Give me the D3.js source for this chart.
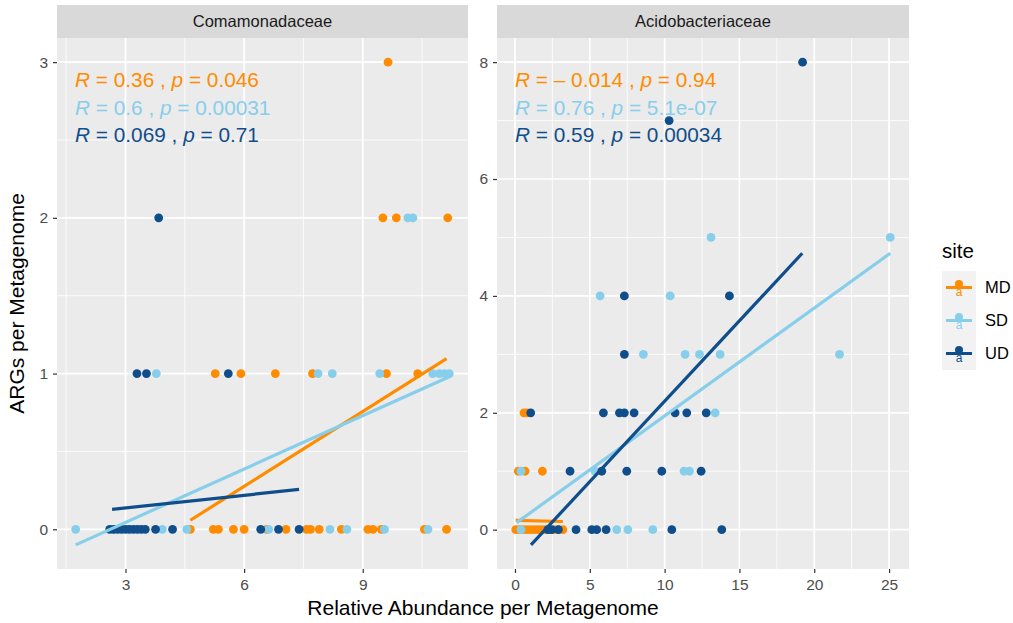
<!DOCTYPE html>
<html>
<head>
<meta charset="utf-8">
<script src="https://cdn.jsdelivr.net/npm/d3@7"></script>
<style>
  body { margin: 0; background: #fff; }
  svg text { font-family: "Liberation Sans", Arial, sans-serif; }
</style>
</head>
<body>
<script>
// site levels + colours
var sites = ["MD", "SD", "UD"];
var siteColors = ["#FF8C00", "#87CEEB", "#104E8B"];

// ---- Comamonadaceae (left facet) : [abundance, ARGs]
var comaMD = [[4.64,0],[5.22,0],[5.35,0],[5.73,0],[6.0,0],[6.57,0],[7.06,0],[7.58,0],[7.68,0],[7.9,0],[8.46,0],[9.13,0],[9.26,0],[9.47,0],[10.56,0],[11.12,0],
  [5.27,1],[5.92,1],[6.79,1],[7.73,1],[9.6,1],[10.39,1],
  [9.51,2],[9.85,2],[11.15,2],[9.64,3]];
var comaSD = [[1.74,0],[2.67,0],[3.93,0],[4.55,0],[6.62,0],[8.17,0],[8.6,0],[9.55,0],[10.65,0],
  [3.78,1],[7.87,1],[8.23,1],[9.43,1],[10.77,1],[10.94,1],[11.07,1],[11.19,1],
  [10.14,2],[10.27,2]];
var comaUD = [[2.6,0],[2.7,0],[2.8,0],[2.9,0],[3.0,0],[3.1,0],[3.2,0],[3.3,0],[3.4,0],[3.5,0],[3.76,0],[4.19,0],[6.42,0],[6.87,0],[7.39,0],
  [3.29,1],[3.53,1],[5.6,1],[3.84,2]];

// ---- Acidobacteriaceae (right facet)
var acidoMD = [[0.05,0],[0.3,0],[0.55,0],[0.8,0],[1.05,0],[1.3,0],[1.55,0],[1.8,0],[2.05,0],[2.3,0],[2.6,0],[2.9,0],[3.2,0],
  [0.22,1],[0.67,1],[1.83,1],[0.6,2],[0.8,2]];
var acidoSD = [[0.4,0],[6.8,0],[7.54,0],[9.21,0],
  [0.4,1],[5.35,1],[11.3,1],[11.66,1],[13.38,2],
  [8.58,3],[11.37,3],[12.33,3],[13.71,3],[21.69,3],
  [5.69,4],[10.37,4],[13.1,5],[25.08,5]];
var acidoUD = [[2.2,0],[2.45,0],[2.9,0],[4.08,0],[5.13,0],[5.46,0],[6.09,0],[10.48,0],[13.82,0],
  [3.68,1],[5.8,1],[7.47,1],[9.81,1],[12.44,1],
  [1.05,2],[5.91,2],[6.98,2],[7.31,2],[7.96,2],[10.7,2],[11.48,2],[12.78,2],
  [7.31,3],[7.31,4],[14.33,4],[10.3,7],[19.22,8]];

// lm fits: [x1, y1, x2, y2] per site
var comaFits = [[4.64,0.058,11.12,1.096],[1.74,-0.10,11.19,0.98],[2.66,0.128,7.39,0.256]];
var acidoFits = [[0.05,0.16,3.2,0.14],[0.11,0.12,25.08,4.73],[1.07,-0.26,19.2,4.73]];

// stat_cor labels
var comaR = ["0.36", "0.6", "0.069"];
var comaP = ["0.046", "0.00031", "0.71"];
var acidoR = ["\u2013 0.014", "0.76", "0.59"];
var acidoP = ["0.94", "5.1e-07", "0.00034"];

var comaXTicks = [3, 6, 9], comaYTicks = [0, 1, 2, 3];
var acidoXTicks = [0, 5, 10, 15, 20, 25], acidoYTicks = [0, 2, 4, 6, 8];

var W = 1013, H = 623;
var pTop = 38, pBottom = 569, stripTop = 5;

var svg = d3.select("body").append("svg")
  .attr("width", W).attr("height", H);

function expand(lo, hi) {
  var d = (hi - lo) * 0.05;
  return [lo - d, hi + d];
}

function drawPanel(opt) {
  var pts = [];
  opt.series.forEach(function (s, i) {
    s.forEach(function (p) { pts.push({x: p[0], y: p[1], site: i}); });
  });
  var xs = pts.map(function (d) { return d.x; });
  var ys = pts.map(function (d) { return d.y; });
  opt.fits.forEach(function (f) { xs.push(f[0], f[2]); ys.push(f[1], f[3]); });

  var x = d3.scaleLinear().domain(expand(d3.min(xs), d3.max(xs))).range([opt.x0, opt.x1]);
  var y = d3.scaleLinear().domain(expand(d3.min(ys), d3.max(ys))).range([pBottom, pTop]);

  var g = svg.append("g");

  // strip
  g.append("rect").attr("x", opt.x0).attr("y", stripTop)
    .attr("width", opt.x1 - opt.x0).attr("height", pTop - stripTop)
    .attr("fill", "#d9d9d9");
  g.append("text").attr("x", (opt.x0 + opt.x1) / 2).attr("y", (stripTop + pTop) / 2 + 5.5)
    .attr("text-anchor", "middle").attr("font-size", 16.5).attr("fill", "#1a1a1a")
    .text(opt.title);

  // panel background
  g.append("rect").attr("x", opt.x0).attr("y", pTop)
    .attr("width", opt.x1 - opt.x0).attr("height", pBottom - pTop)
    .attr("fill", "#ebebeb");

  // minor grid
  var xStep = opt.xTicks[1] - opt.xTicks[0];
  var yStep = opt.yTicks[1] - opt.yTicks[0];
  var xMinor = d3.range(opt.xTicks[0] - xStep / 2, x.domain()[1], xStep).filter(function (v) { return v > x.domain()[0]; });
  var yMinor = d3.range(opt.yTicks[0] - yStep / 2, y.domain()[1], yStep).filter(function (v) { return v > y.domain()[0]; });
  g.selectAll(".xminor").data(xMinor).enter().append("line")
    .attr("x1", x).attr("x2", x).attr("y1", pTop).attr("y2", pBottom)
    .attr("stroke", "#fff").attr("stroke-width", 0.8);
  g.selectAll(".yminor").data(yMinor).enter().append("line")
    .attr("x1", opt.x0).attr("x2", opt.x1).attr("y1", y).attr("y2", y)
    .attr("stroke", "#fff").attr("stroke-width", 0.8);

  // major grid
  g.selectAll(".xmajor").data(opt.xTicks).enter().append("line")
    .attr("x1", x).attr("x2", x).attr("y1", pTop).attr("y2", pBottom)
    .attr("stroke", "#fff").attr("stroke-width", 1.7);
  g.selectAll(".ymajor").data(opt.yTicks).enter().append("line")
    .attr("x1", opt.x0).attr("x2", opt.x1).attr("y1", y).attr("y2", y)
    .attr("stroke", "#fff").attr("stroke-width", 1.7);

  // axes
  var xAxis = g.append("g").attr("transform", "translate(0," + pBottom + ")")
    .call(d3.axisBottom(x).tickValues(opt.xTicks).tickSize(4).tickPadding(6).tickFormat(d3.format("d")));
  var yAxis = g.append("g").attr("transform", "translate(" + opt.x0 + ",0)")
    .call(d3.axisLeft(y).tickValues(opt.yTicks).tickSize(4).tickPadding(5).tickFormat(d3.format("d")));
  [xAxis, yAxis].forEach(function (a) {
    a.select(".domain").remove();
    a.attr("font-size", 15.5).attr("font-family", "Liberation Sans, Arial, sans-serif");
    a.selectAll("line").attr("stroke", "#333").attr("stroke-width", 1.2);
    a.selectAll("text").attr("fill", "#4d4d4d");
  });

  // points
  g.selectAll("circle").data(pts).enter().append("circle")
    .attr("cx", function (d) { return x(d.x); })
    .attr("cy", function (d) { return y(d.y); })
    .attr("r", 4.4)
    .attr("fill", function (d) { return siteColors[d.site]; });

  // fit lines
  g.selectAll(".fit").data(opt.fits).enter().append("line")
    .attr("x1", function (d) { return x(d[0]); })
    .attr("y1", function (d) { return y(d[1]); })
    .attr("x2", function (d) { return x(d[2]); })
    .attr("y2", function (d) { return y(d[3]); })
    .attr("stroke", function (d, i) { return siteColors[i]; })
    .attr("stroke-width", 3.2);

  // correlation labels
  opt.r.forEach(function (r, i) {
    var t = g.append("text").attr("x", opt.x0 + 18).attr("y", 87 + i * 27.5)
      .attr("font-size", 20.8).attr("fill", siteColors[i]);
    t.append("tspan").attr("font-style", "italic").text("R");
    t.append("tspan").text(" = " + r + " , ");
    t.append("tspan").attr("font-style", "italic").text("p");
    t.append("tspan").text(" = " + opt.p[i]);
  });
}

drawPanel({
  title: "Comamonadaceae", x0: 57, x1: 468,
  series: [comaMD, comaSD, comaUD], fits: comaFits,
  xTicks: comaXTicks, yTicks: comaYTicks, r: comaR, p: comaP
});
drawPanel({
  title: "Acidobacteriaceae", x0: 497, x1: 909,
  series: [acidoMD, acidoSD, acidoUD], fits: acidoFits,
  xTicks: acidoXTicks, yTicks: acidoYTicks, r: acidoR, p: acidoP
});

// axis titles
svg.append("text").attr("x", 483).attr("y", 615)
  .attr("text-anchor", "middle").attr("font-size", 21).attr("fill", "#000")
  .text("Relative Abundance per Metagenome");
svg.append("text").attr("transform", "translate(24," + (pTop + pBottom) / 2 + ") rotate(-90)")
  .attr("text-anchor", "middle").attr("font-size", 21).attr("fill", "#000")
  .text("ARGs per Metagenome");

// legend
var leg = svg.append("g").attr("transform", "translate(942,0)");
leg.append("text").attr("x", 0).attr("y", 258).attr("font-size", 20.5).text("site");
var keys = leg.selectAll(".key").data(sites).enter().append("g")
  .attr("transform", function (d, i) { return "translate(0," + (271 + i * 33) + ")"; });
keys.append("rect").attr("width", 34).attr("height", 33).attr("fill", "#f2f2f2");
keys.append("line").attr("x1", 4).attr("x2", 30).attr("y1", 16.5).attr("y2", 16.5)
  .attr("stroke", function (d, i) { return siteColors[i]; }).attr("stroke-width", 3);
keys.append("circle").attr("cx", 17).attr("cy", 13).attr("r", 4)
  .attr("fill", function (d, i) { return siteColors[i]; });
keys.append("text").attr("x", 17).attr("y", 25).attr("text-anchor", "middle")
  .attr("font-size", 12).attr("fill", function (d, i) { return siteColors[i]; }).text("a");
keys.append("text").attr("x", 43).attr("y", 22).attr("font-size", 16.5).attr("fill", "#000")
  .text(function (d) { return d; });
</script>
</body>
</html>
